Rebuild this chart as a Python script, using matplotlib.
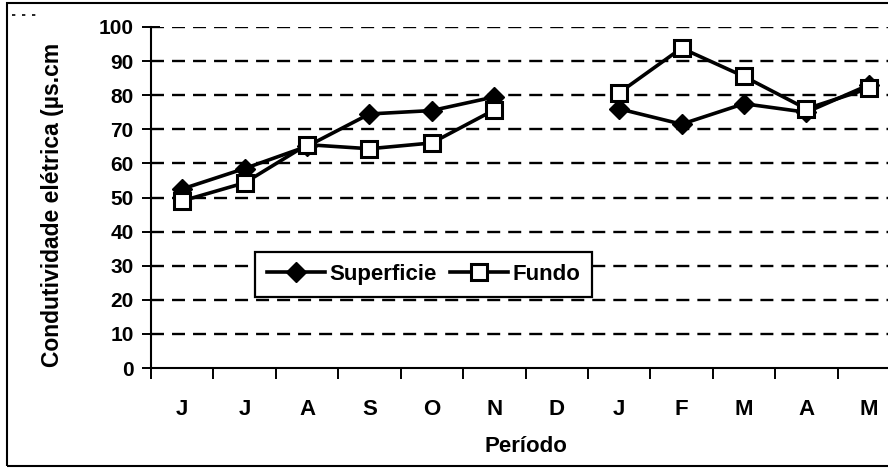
import numpy as np
import matplotlib
matplotlib.use("Agg")
import matplotlib.pyplot as plt
from matplotlib.lines import Line2D
from matplotlib.patches import Rectangle

# Dados
meses = ["J", "J", "A", "S", "O", "N", "D", "J", "F", "M", "A", "M"]
superficie = [52.5, 58.5, 65.0, 74.5, 75.5, 79.5, np.nan, 76.0, 71.5, 77.5, 75.0, 83.0]
fundo = [49.0, 54.3, 65.5, 64.3, 66.0, 75.7, np.nan, 80.7, 93.8, 85.5, 76.0, 82.0]
yticks = [0, 10, 20, 30, 40, 50, 60, 70, 80, 90, 100]

plt.rcParams["font.family"] = ["Liberation Sans", "DejaVu Sans"]
plt.rcParams["font.weight"] = "bold"

W, H = 888, 468
fig = plt.figure(figsize=(W / 100, H / 100), dpi=100)
ax = fig.add_axes([151 / W, 1 - 368 / H, 749 / W, 341 / H])

x = np.arange(len(meses))

# grade tracejada
for v in yticks[1:]:
    ax.axhline(v, color="black", lw=1.7, dashes=(5.5, 3.4), zorder=1)

ax.plot(x, superficie, color="black", lw=2.6, marker="D", markersize=10.5,
        markerfacecolor="black", markeredgecolor="black", label="Superficie", zorder=3)
ax.plot(x, fundo, color="black", lw=2.6, marker="s", markersize=11.5,
        markerfacecolor="white", markeredgecolor="black", markeredgewidth=2.2,
        label="Fundo", zorder=4)

ax.set_xlim(-0.5, len(meses) - 0.5)
ax.set_ylim(0, 100)
ax.set_yticks(yticks)
ax.set_yticklabels([str(v) for v in yticks], fontsize=15, fontweight="bold")

ax.set_xticks(np.arange(len(meses) + 1) - 0.5)
ax.set_xticklabels([])
ax.set_xticks(x, minor=True)
ax.set_xticklabels(meses, minor=True, fontsize=16, fontweight="bold")
ax.tick_params(axis="x", which="major", direction="out", length=8, width=1.4)
ax.tick_params(axis="x", which="minor", length=0, pad=22)
ax.tick_params(axis="y", direction="inout", length=13, width=1.4, pad=6)

for s in ["top", "right"]:
    ax.spines[s].set_visible(False)
for s in ["left", "bottom"]:
    ax.spines[s].set_linewidth(1.5)

ax.set_xlabel("Período", fontsize=16, fontweight="bold", labelpad=12)

fig.text(53 / W, 1 - 367 / H, "Condutividade elétrica (µs.cm", rotation=90,
         ha="center", va="bottom", fontsize=16.5, fontweight="bold")

leg = ax.legend(loc="upper left", bbox_to_anchor=(255 / W, 1 - 252 / H),
                bbox_transform=fig.transFigure, ncol=2, frameon=True,
                fancybox=False, framealpha=1, edgecolor="black",
                prop={"size": 16, "weight": "bold"}, handlelength=2.6,
                handletextpad=0.2, columnspacing=0.6, borderpad=0.55,
                borderaxespad=0)
leg.get_frame().set_linewidth(1.6)
leg.set_zorder(10)

# moldura externa
fig.add_artist(Rectangle((7 / W, 2 / H), 1, 463 / H, transform=fig.transFigure,
                         fill=False, edgecolor="black", lw=1.5))
fig.add_artist(Line2D([12 / W, 42 / W], [1 - 15 / H, 1 - 15 / H], transform=fig.transFigure,
                      color="black", lw=1.2, dashes=(2, 4)))

fig.savefig("out.png", dpi=100)
